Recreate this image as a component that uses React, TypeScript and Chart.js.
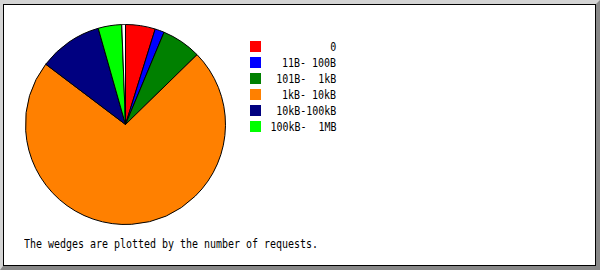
import React, { useEffect, useRef } from "react";
import { Chart, registerables } from "chart.js";

Chart.register(...registerables);

// Size classes (legend) and one unlabelled remainder wedge
const sizeLabels = ["0", "11B- 100B", "101B-  1kB", "1kB- 10kB", "10kB-100kB", "100kB-  1MB", "other"];
// Share of requests (%) per class
const requestShares = [4.8, 1.5, 6.4, 72.6, 10.3, 3.8, 0.6];
const wedgeColors = ["#ff0000", "#0000ff", "#008000", "#ff8000", "#000080", "#00ff00", "#ffffff"];
const legendCount = 6;
const caption = "The wedges are plotted by the number of requests.";

const FONT = "'DejaVu Sans Mono', 'Liberation Mono', monospace";

export default function App() {
  const canvasRef = useRef<HTMLCanvasElement | null>(null);

  useEffect(() => {
    if (!canvasRef.current) return;
    const chart = new Chart(canvasRef.current, {
      type: "pie",
      data: {
        labels: sizeLabels,
        datasets: [
          {
            data: requestShares,
            backgroundColor: wedgeColors,
            borderColor: "#000000",
            borderWidth: 1,
          },
        ],
      },
      options: {
        responsive: false,
        maintainAspectRatio: false,
        animation: false,
        rotation: 0,
        layout: { padding: 0 },
        plugins: {
          legend: { display: false },
          tooltip: { enabled: false },
        },
      },
    });
    return () => chart.destroy();
  }, []);

  const textStyle: React.CSSProperties = {
    fontFamily: FONT,
    fontSize: "12px",
    lineHeight: "12px",
    whiteSpace: "pre",
    color: "#000",
  };

  return (
    <div style={{ position: "absolute", left: 0, top: 0, width: 600, height: 270, overflow: "hidden", background: "#fff" }}>
      <div
        style={{
          position: "absolute",
          left: 0,
          top: 0,
          width: 600,
          height: 270,
          boxSizing: "border-box",
          borderTop: "4px solid #d4d4d4",
          borderLeft: "3px solid #d4d4d4",
          borderRight: "4px solid #888888",
          borderBottom: "4px solid #888888",
        }}
      >
        <div style={{ width: "100%", height: "100%", boxSizing: "border-box", border: "1px solid #000", background: "#fff" }} />
      </div>
      <canvas
        ref={canvasRef}
        width={201}
        height={201}
        style={{ position: "absolute", left: 25, top: 24, width: 201, height: 201 }}
      />
      {sizeLabels.slice(0, legendCount).map((lab, i) => (
        <div key={lab} style={{ position: "absolute", left: 250, top: 41 + 16 * i, width: 86, height: 12 }}>
          <div style={{ position: "absolute", left: 0, top: 0, width: 11, height: 11, background: wedgeColors[i] }} />
          <div
            style={{
              ...textStyle,
              position: "absolute",
              right: 0,
              top: -0.5,
              transform: "scaleX(0.8306)",
              transformOrigin: "right center",
            }}
          >
            {lab}
          </div>
        </div>
      ))}
      <div
        style={{
          ...textStyle,
          position: "absolute",
          left: 24,
          top: 237.5,
          transform: "scaleX(0.8306)",
          transformOrigin: "left center",
        }}
      >
        {caption}
      </div>
    </div>
  );
}
